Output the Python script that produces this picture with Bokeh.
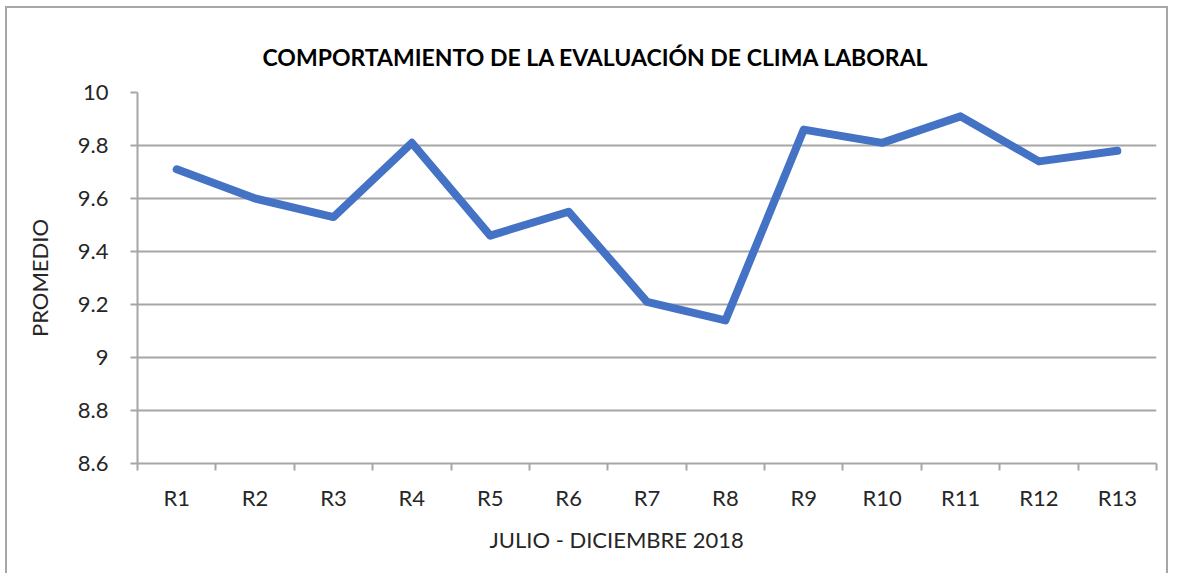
from bokeh.plotting import figure
from bokeh.models import FixedTicker, CustomJSTickFormatter, Title, Range1d, ColumnDataSource
from bokeh.embed import file_html
from bokeh.resources import INLINE

categories = ["R1", "R2", "R3", "R4", "R5", "R6", "R7", "R8", "R9", "R10", "R11", "R12", "R13"]
promedio = [9.71, 9.60, 9.53, 9.81, 9.46, 9.55, 9.21, 9.14, 9.86, 9.81, 9.91, 9.74, 9.78]
y_ticks = [8.6, 8.8, 9.0, 9.2, 9.4, 9.6, 9.8, 10.0]
title_text = "COMPORTAMIENTO DE LA EVALUACIÓN DE CLIMA LABORAL"
x_label = "JULIO - DICIEMBRE 2018"
y_label = "PROMEDIO"

FONT = "Lato"
GRAY = "#a6a6a6"
TXT = "#262626"

n = len(categories)
xs = [i + 0.5 for i in range(n)]
src = ColumnDataSource(dict(x=xs, y=promedio, cat=categories))

p = figure(width=1163, height=567,
           x_range=Range1d(0, n), y_range=Range1d(y_ticks[0], y_ticks[-1]),
           output_backend="svg", toolbar_location=None,
           min_border_left=130, min_border_right=14, min_border_top=84, min_border_bottom=112)
p.styles = {"margin-left": "5px", "margin-top": "6px",
            "border-left": "2px solid " + GRAY, "border-top": "2px solid " + GRAY,
            "border-right": "2px solid " + GRAY}
p.outline_line_color = None
p.background_fill_color = "white"

p.line("x", "y", source=src, line_color="#4472C4", line_width=8,
       line_join="round", line_cap="round")

p.xgrid.visible = False
p.ygrid.grid_line_color = GRAY
p.ygrid.grid_line_width = 2

# Y axis
ya = p.yaxis[0]
ya.ticker = FixedTicker(ticks=y_ticks)
ya.formatter = CustomJSTickFormatter(code="return (Math.round(tick*10)/10).toString()")
ya.axis_line_color = GRAY
ya.axis_line_width = 2
ya.major_tick_line_color = GRAY
ya.major_tick_line_width = 2
ya.major_tick_out = 7
ya.major_tick_in = 0
ya.minor_tick_line_color = None
ya.major_label_text_font = FONT
ya.major_label_text_font_size = "22px"
ya.major_label_text_color = TXT
ya.major_label_standoff = 22
ya.axis_label = y_label
ya.axis_label_text_font = FONT
ya.axis_label_text_font_size = "22px"
ya.axis_label_text_font_style = "normal"
ya.axis_label_text_color = TXT
ya.axis_label_standoff = 22

# X axis
xa = p.xaxis[0]
xa.ticker = FixedTicker(ticks=xs, minor_ticks=list(range(n + 1)))
xa.formatter = CustomJSTickFormatter(args=dict(labels=categories),
                                     code="return labels[Math.floor(tick)]")
xa.axis_line_color = GRAY
xa.axis_line_width = 2
xa.major_tick_line_color = None
xa.major_tick_out = 7
xa.major_tick_in = 0
xa.minor_tick_line_color = GRAY
xa.minor_tick_line_width = 2
xa.minor_tick_out = 7
xa.minor_tick_in = 0
xa.major_label_text_font = FONT
xa.major_label_text_font_size = "22px"
xa.major_label_text_color = TXT
xa.major_label_standoff = 13

# Titles
t = Title(text=title_text, align="left", offset=125, vertical_align="top",
          text_font=FONT, text_font_size="23px", text_font_style="bold",
          text_color="#000000", standoff=40)
p.add_layout(t, "above")

xt = Title(text=x_label, align="left", offset=352, vertical_align="bottom",
           text_font=FONT, text_font_size="22px", text_font_style="normal",
           text_color=TXT, standoff=20)
p.add_layout(xt, "below")

open("out.html", "w").write(file_html(p, INLINE))
